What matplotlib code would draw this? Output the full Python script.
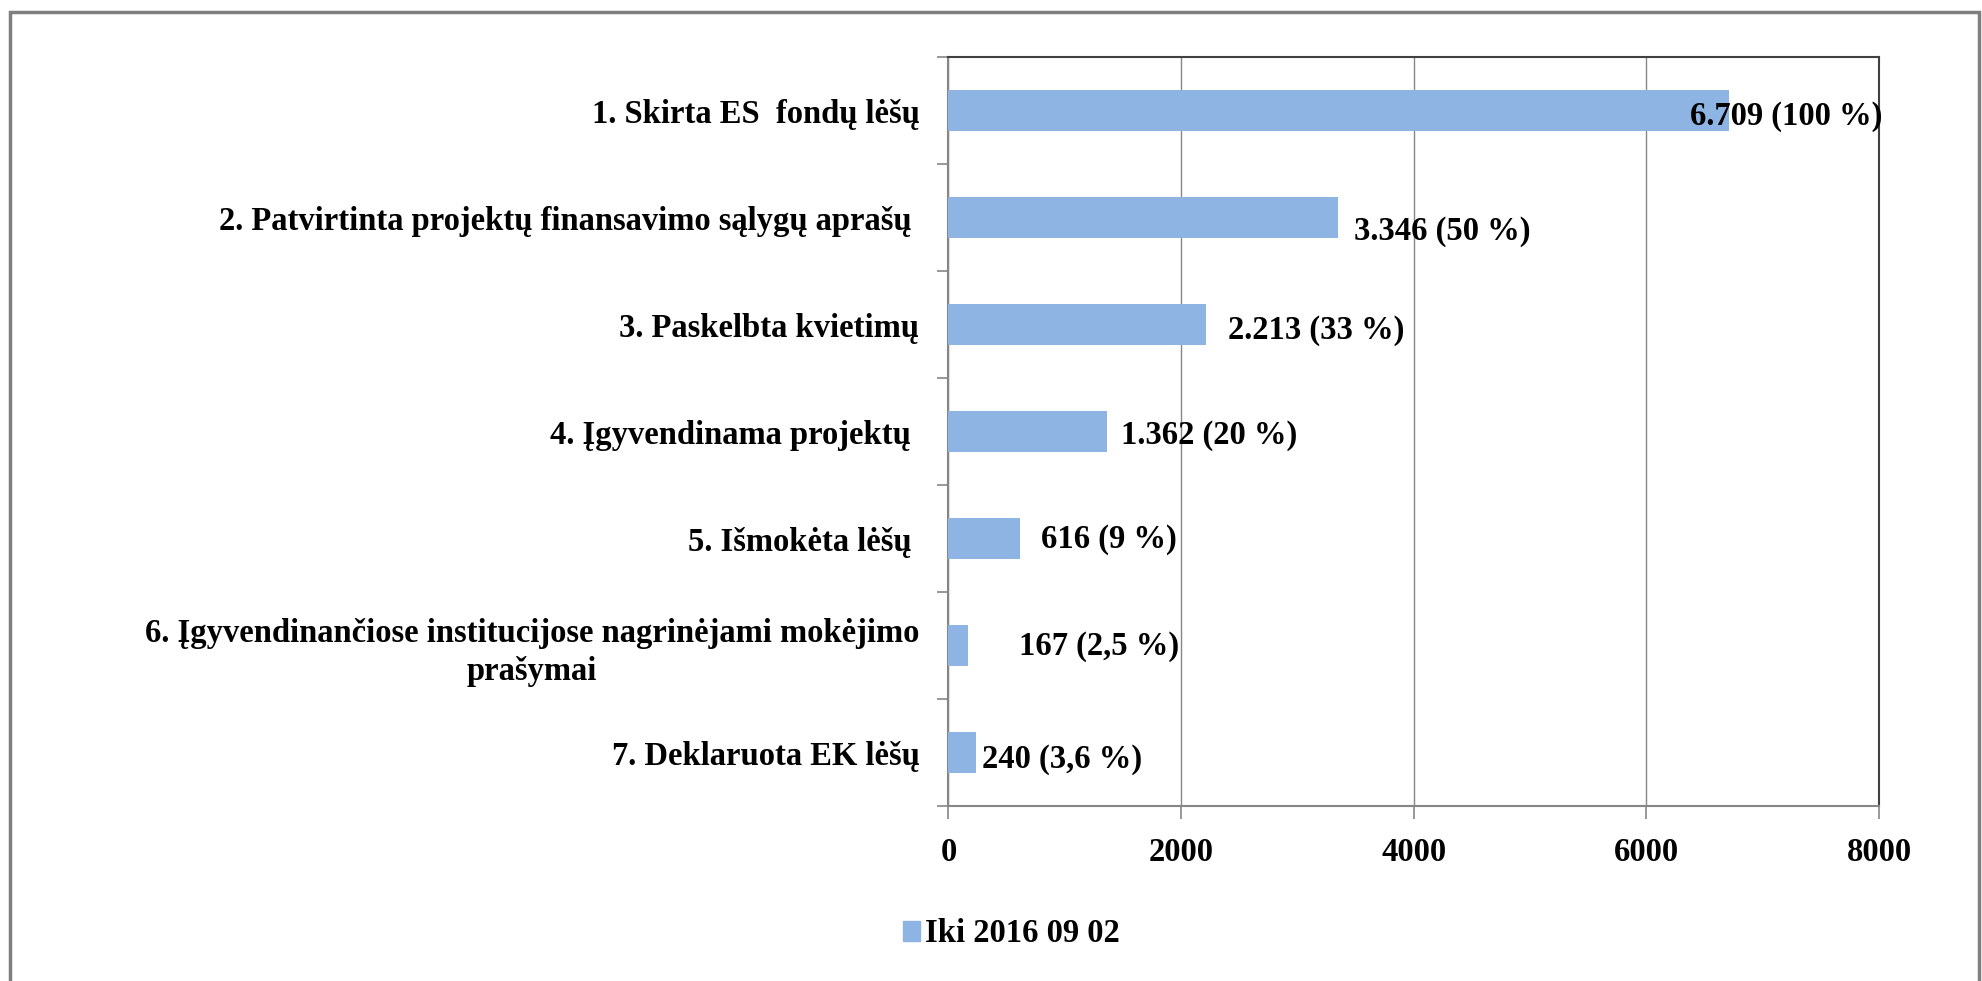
import matplotlib
matplotlib.use("Agg")
import matplotlib.pyplot as plt
from matplotlib.patches import Rectangle
import numpy as np

categories = [
    "1. Skirta ES  fondų lėšų",
    "2. Patvirtinta projektų finansavimo sąlygų aprašų ",
    "3. Paskelbta kvietimų",
    "4. Įgyvendinama projektų ",
    "5. Išmokėta lėšų ",
    "6. Įgyvendinančiose institucijose nagrinėjami mokėjimo\nprašymai",
    "7. Deklaruota EK lėšų",
]
values = [6709, 3346, 2213, 1362, 616, 167, 240]
value_labels = [
    "6.709 (100 %)",
    "3.346 (50 %)",
    "2.213 (33 %)",
    "1.362 (20 %)",
    "616 (9 %)",
    "167 (2,5 %)",
    "240 (3,6 %)",
]
series_name = "Iki 2016 09 02"
x_ticks = [0, 2000, 4000, 6000, 8000]

# label offsets in points (dx, dy) – styling only
label_offsets = [(-28, -4), (12, -10), (16, -4), (10, -3), (15, -1), (37, -1), (4, -5)]

FONT = "Liberation Serif"
FS = 23.5
BAR = "#8EB4E3"
GRID = "#868686"

fig = plt.figure(figsize=(19.83, 9.81), dpi=100)
W, H = 1983, 981
ax = fig.add_axes([948.5 / W, 1 - 806 / H, (1879 - 948.5) / W, (806 - 57) / H])

y = np.arange(len(categories))
ax.barh(y, values, height=0.39, color=BAR, zorder=3)

ax.set_xlim(0, 8000)
ax.set_ylim(len(categories) - 0.5, -0.5)
ax.set_xticks(x_ticks)
ax.set_xticklabels([str(t) for t in x_ticks], fontfamily=FONT, fontweight="bold", fontsize=FS)
ax.xaxis.grid(True, color=GRID, lw=1, zorder=0)
ax.tick_params(axis="x", direction="out", length=9, width=1.2, color=GRID, pad=13)

# y: categories labeled at centers, tick marks at boundaries
ax.set_yticks(np.arange(-0.5, len(categories), 1.0))
ax.set_yticklabels([])
ax.set_yticks(y, minor=True)
ax.set_yticklabels(categories, minor=True, fontfamily=FONT, fontweight="bold",
                   fontsize=FS, multialignment="center", linespacing=1.3)
ax.tick_params(axis="y", which="major", direction="out", length=8, width=1.2, color=GRID)
ax.tick_params(axis="y", which="minor", length=0, pad=21)

for s in ["left", "bottom"]:
    ax.spines[s].set_color(GRID)
    ax.spines[s].set_linewidth(1.5)
for s in ["top", "right"]:
    ax.spines[s].set_color("#404040")
    ax.spines[s].set_linewidth(1.5)

for yi, v, lab, (dx, dy) in zip(y, values, value_labels, label_offsets):
    ax.annotate(lab, xy=(v, yi), xytext=(dx, dy), textcoords="offset points",
                ha="left", va="center", fontfamily=FONT, fontweight="bold",
                fontsize=FS, zorder=5)

# legend
handle = Rectangle((0, 0), 1, 1, color=BAR)
fig.legend([handle], [series_name], loc="center", bbox_to_anchor=(1011 / W, 1 - 934 / H),
           frameon=False, prop={"family": FONT, "weight": "bold", "size": FS},
           handlelength=0.52, handleheight=0.55, handletextpad=0.15)

# outer frame
fig.patches.append(Rectangle((10 / W, -0.01), (1979 - 10) / W, 1.01 - 12 / H,
                             transform=fig.transFigure, fill=False,
                             edgecolor="#7f7f7f", lw=2.5))

fig.savefig("out.png", dpi=100)
